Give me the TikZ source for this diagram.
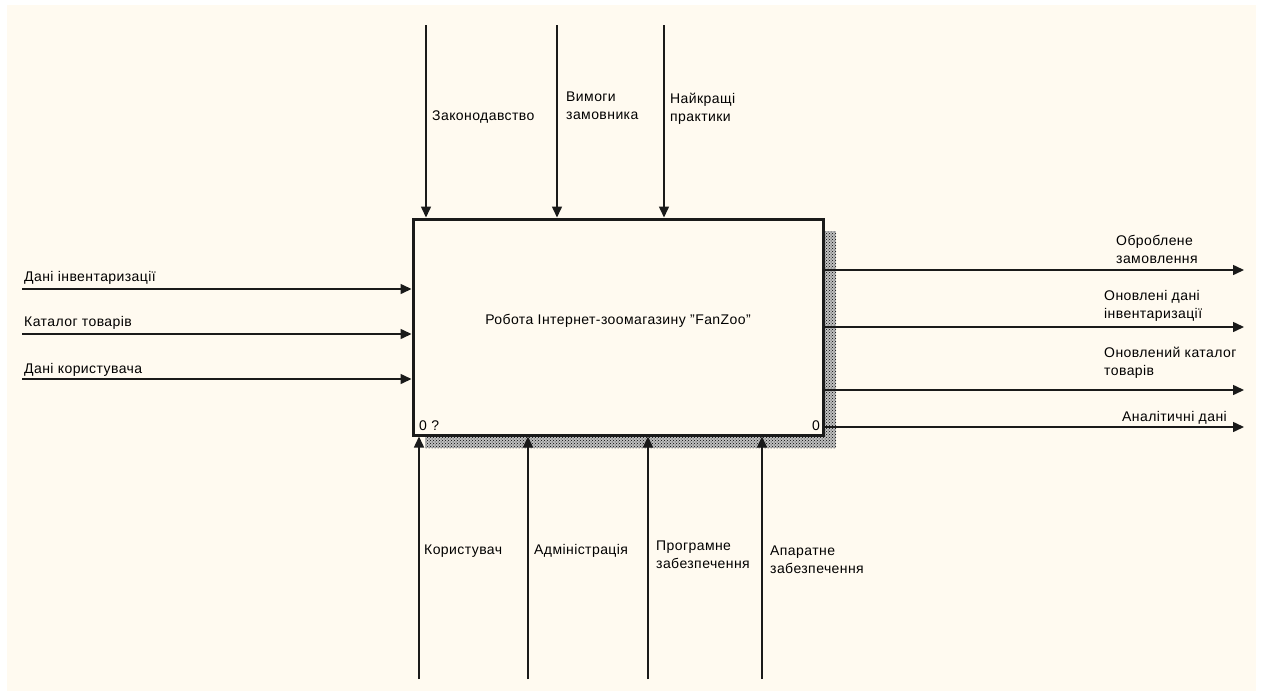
\documentclass[tikz,border=0pt]{standalone}
\usepackage{fontspec}
\setmainfont[LetterSpace=3]{Liberation Sans}
\usetikzlibrary{arrows.meta,patterns}
\definecolor{paper}{HTML}{FFFAF0}
\definecolor{ink}{HTML}{1A1A1A}
\tikzset{
  every picture/.style={font=\fontsize{14}{18}\selectfont, line join=miter},
  flow/.style={ink, line width=1.5pt, -{Triangle[length=11pt,width=10pt]}},
  lbl/.style={inner sep=0pt, align=left, anchor=west},
  actbox/.style={draw=ink, line width=3pt, fill=paper, minimum width=410pt, minimum height=216pt, inner sep=0pt},
}
\begin{document}
\begin{tikzpicture}[x=1pt,y=-1pt]
\useasboundingbox (0,0) rectangle (1261,691);
\fill[white] (0,0) rectangle (1261,691);
\fill[paper] (7,5) rectangle (1256,691);
% shadow behind the activity box
\fill[black!25] (425,231) rectangle (836,448);
\fill[pattern=crosshatch dots, pattern color=black] (425,231) rectangle (836,448);
\node[actbox] (main) at (618,327) {};
\node (title) at (618,321) {Робота Інтернет-зоомагазину "FanZoo"};
\node[anchor=south west, inner sep=0pt] (num) at (419,431) {0 ?};
\node[anchor=south east, inner sep=0pt] (nodeno) at (820,431) {0};
% controls
\coordinate (c1) at (426,25);
\coordinate (c2) at (557,25);
\coordinate (c3) at (664,25);
\draw[flow] (c1) -- (c1 |- main.north);
\draw[flow] (c2) -- (c2 |- main.north);
\draw[flow] (c3) -- (c3 |- main.north);
\node[lbl] (law) at (432,117) {Законодавство};
\node[lbl] (req) at (566,106) {Вимоги\\замовника};
\node[lbl] (best) at (670,109) {Найкращі\\практики};
% inputs
\coordinate (i1) at (22,289);
\coordinate (i2) at (22,334);
\coordinate (i3) at (22,379);
\draw[flow] (i1) -- (i1 -| main.west);
\draw[flow] (i2) -- (i2 -| main.west);
\draw[flow] (i3) -- (i3 -| main.west);
\node[lbl] (inv) at (24,278) {Дані інвентаризації};
\node[lbl] (cat) at (24,323) {Каталог товарів};
\node[lbl] (usr) at (24,370) {Дані користувача};
% outputs
\coordinate (o1) at (1244,270);
\coordinate (o2) at (1244,327);
\coordinate (o3) at (1244,390);
\coordinate (o4) at (1244,427);
\draw[flow] (o1 -| main.east) -- (o1);
\draw[flow] (o2 -| main.east) -- (o2);
\draw[flow] (o3 -| main.east) -- (o3);
\draw[flow] (o4 -| main.east) -- (o4);
\node[lbl] (done) at (1116,249) {Оброблене\\замовлення};
\node[lbl] (newinv) at (1104,306) {Оновлені дані\\інвентаризації};
\node[lbl] (newcat) at (1104,363) {Оновлений каталог\\товарів};
\node[lbl, anchor=east] (stats) at (1227,418) {Аналітичні дані};
% mechanisms
\coordinate (m1) at (419,679);
\coordinate (m2) at (528,679);
\coordinate (m3) at (648,679);
\coordinate (m4) at (762,679);
\draw[flow] (m1) -- (m1 |- main.south);
\draw[flow] (m2) -- (m2 |- main.south);
\draw[flow] (m3) -- (m3 |- main.south);
\draw[flow] (m4) -- (m4 |- main.south);
\node[lbl] (client) at (424,551) {Користувач};
\node[lbl] (admin) at (534,551) {Адміністрація};
\node[lbl] (soft) at (656,555) {Програмне\\забезпечення};
\node[lbl] (hard) at (770,560) {Апаратне\\забезпечення};
\end{tikzpicture}
\end{document}
